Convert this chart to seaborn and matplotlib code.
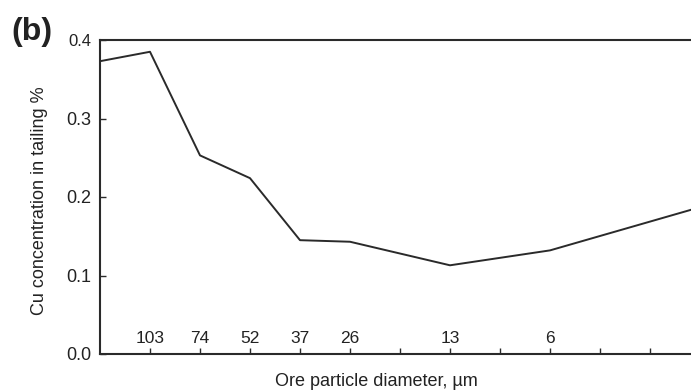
import matplotlib
matplotlib.use("Agg")
import matplotlib.pyplot as plt
import seaborn as sns
import pandas as pd

# data
positions = [0, 1, 2, 3, 4, 5, 7, 9, 12]
cu_conc = [0.373, 0.385, 0.253, 0.224, 0.145, 0.143, 0.113, 0.132, 0.187]
tick_positions = [1, 2, 3, 4, 5, 6, 7, 8, 9, 10, 11]
tick_labels = ["103", "74", "52", "37", "26", "", "13", "", "6", "", ""]
y_ticks = [0.0, 0.1, 0.2, 0.3, 0.4]

sns.set_theme(style="white")
plt.rcParams['font.family'] = ['Liberation Sans', 'DejaVu Sans']

df = pd.DataFrame({"pos": positions, "cu": cu_conc})

W, H = 691, 392
fig = plt.figure(figsize=(W / 100, H / 100), dpi=100)
ax = fig.add_axes([100 / W, 1 - 354 / H, 600 / W, (354 - 40) / H])

sns.lineplot(data=df, x="pos", y="cu", ax=ax, color="#2a2a2a", linewidth=1.4)

ax.set_xlim(0, 12)
ax.set_ylim(0, 0.4)
ax.set_xticks(tick_positions)
ax.set_xticklabels(tick_labels)
ax.set_yticks(y_ticks)
ax.set_yticklabels([f"{v:.1f}" for v in y_ticks])

for s in ["left", "bottom", "top"]:
    ax.spines[s].set_visible(True)
    ax.spines[s].set_color("#2a2a2a")
    ax.spines[s].set_linewidth(1.5)
ax.spines["right"].set_visible(False)

ax.tick_params(axis="x", direction="in", length=4, width=1, color="#2a2a2a",
               pad=-16.5, labelsize=12.5, labelcolor="#222222", bottom=True)
ax.tick_params(axis="y", direction="in", length=4, width=1, color="#2a2a2a",
               pad=6, labelsize=13, labelcolor="#222222", left=True)
ax.get_yticklabels()[-1].set_fontsize(12)

ax.set_xlabel("")
ax.set_ylabel("")
fig.text(40 / W, 1 - 201 / H, "Cu concentration in tailing %", rotation=90,
         ha="center", va="center", fontsize=13, color="#222222")
fig.text(376 / W, 1 - 382 / H, "Ore particle diameter, \u00b5m",
         ha="center", va="center", fontsize=13, color="#222222")
fig.text(32 / W, 1 - 32 / H, "(b)", ha="center", va="center",
         fontsize=23, fontweight="bold", color="#222222")

fig.savefig("out.png", dpi=100)
